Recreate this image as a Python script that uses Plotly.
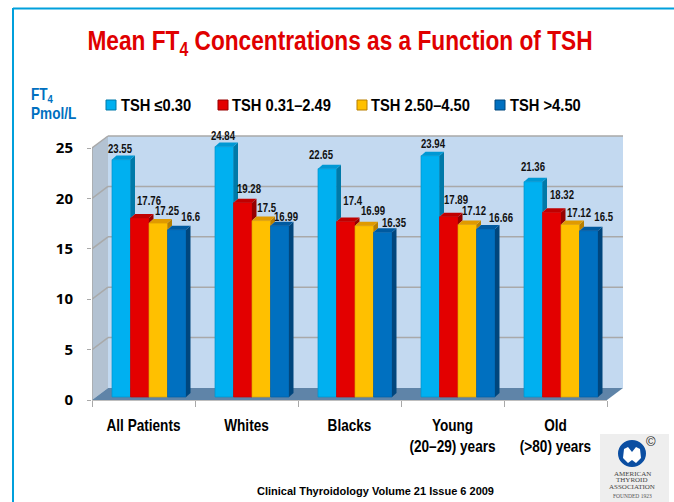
import plotly.graph_objects as go

categories = ["All Patients", "Whites", "Blacks", "Young<br>(20–29) years", "Old<br>(&gt;80) years"]
series_names = ["TSH ≤0.30", "TSH 0.31–2.49", "TSH 2.50–4.50", "TSH &gt;4.50"]
tsh_low = [23.55, 24.84, 22.65, 23.94, 21.36]
tsh_normal = [17.76, 19.28, 17.4, 17.89, 18.32]
tsh_high_normal = [17.25, 17.5, 16.99, 17.12, 17.12]
tsh_high = [16.6, 16.99, 16.35, 16.66, 16.5]
y_ticks = [0, 5, 10, 15, 20, 25]

series = [tsh_low, tsh_normal, tsh_high_normal, tsh_high]
front = ["#00b0f0", "#e30000", "#ffc000", "#0070c0"]
side = ["#0079a8", "#960000", "#b87f00", "#00467d"]
cap = ["#0098d4", "#c00000", "#e09a00", "#005aa0"]
edge = ["#0094cc", "#c80000", "#e0a000", "#005fa8"]

# label nudges relative to the top-centre of each bar, px (series x group)
label_dx = [[-1, -1, -6, 3, 0], [9, 6, 7, 7, 10], [9, 6, 9, 7, 9], [14, 6, 11, 15, 15]]
label_dy = [[10.6, 10.6, 14, 12, 15], [17, 14, 21, 17, 17], [12, 13, 15, 13, 11], [13, 9, 9, 11, 14]]

W, H = 674, 502
L, R, T, B = 92, 630, 130, 400      # plot box, px
GROUP_PX = 103.0
UNIT_PX = 10.08

def X(px):
    return (px - L) / GROUP_PX - 0.5
def Y(py):
    return (B - py) / UNIT_PX
def PX(px):
    return (px - L) / (R - L)
def PY(py):
    return (B - py) / (B - T)

wall_dx = 16 / GROUP_PX
wall_dy = 12 / UNIT_PX
bar_w = 18.5 / GROUP_PX
bar_start = 20 / GROUP_PX - 0.5
bar_base = 3 / UNIT_PX
bar_dx = 4.5 / GROUP_PX
bar_dy = 4 / UNIT_PX

fig = go.Figure()
shapes = []
annotations = []

def poly(pts, color, ref="x", line=None):
    path = "M" + "L".join(f"{a},{b}" for a, b in pts) + "Z"
    shapes.append(dict(type="path", path=path, xref="x" if ref == "x" else "paper",
                       yref="y" if ref == "x" else "paper", fillcolor=color,
                       line=dict(width=0) if line is None else line, layer="below"))

def seg(x0, y0, x1, y1, color="#a9a9a9", width=1.5, ref="x"):
    shapes.append(dict(type="line", x0=x0, y0=y0, x1=x1, y1=y1, xref="x" if ref == "x" else "paper",
                       yref="y" if ref == "x" else "paper", line=dict(color=color, width=width), layer="below"))

x_l, x_r = -0.5, 4.5
# back wall, left wall, floor
poly([(x_l + wall_dx, wall_dy), (x_r + wall_dx, wall_dy), (x_r + wall_dx, 25 + wall_dy), (x_l + wall_dx, 25 + wall_dy)], "#c3d9f0")
poly([(x_l, 0), (x_l + wall_dx, wall_dy), (x_l + wall_dx, 25 + wall_dy), (x_l, 25)], "#b3c2d2")
poly([(x_l, 0), (x_r, 0), (x_r + wall_dx, wall_dy), (x_l + wall_dx, wall_dy)], "#5f84a8")
for v in y_ticks[1:]:
    seg(x_l + wall_dx, v + wall_dy, x_r + wall_dx, v + wall_dy)
    seg(x_l, v, x_l + wall_dx, v + wall_dy)
seg(x_l, 0, x_l, 25)
seg(PX(92), PY(400), PX(607), PY(400), ref="paper")

for k, vals in enumerate(series):
    fig.add_trace(go.Bar(x=list(range(5)), y=vals, base=bar_base, width=bar_w,
                         offset=bar_start + k * bar_w, name=series_names[k],
                         marker=dict(color=front[k], line=dict(color=edge[k], width=0.7)),
                         showlegend=False))

for k, vals in enumerate(series):
    side_x, side_y, cap_x, cap_y = [], [], [], []
    for g, v in enumerate(vals):
        x0 = g + bar_start + k * bar_w
        x1 = x0 + bar_w
        top = v + bar_base
        low = bar_base
        if k < 3:
            low = min(top, series[k + 1][g] + bar_base)
        side_x += [x1, x1 + bar_dx, x1 + bar_dx, x1, None]
        side_y += [top, top + bar_dy, low + bar_dy, low, None]
        cap_x += [x0, x1, x1 + bar_dx, x0 + bar_dx, None]
        cap_y += [top, top, top + bar_dy, top + bar_dy, None]
        annotations.append(dict(x=x0 + bar_w / 2, y=top, xref="x", yref="y", text=str(v), showarrow=False,
                                xanchor="center", yanchor="middle", xshift=label_dx[k][g], yshift=label_dy[k][g],
                                font=dict(family="Liberation Sans", size=12, color="#111111", weight=700)))
    for xs, ys, c in ((side_x, side_y, side[k]), (cap_x, cap_y, cap[k])):
        fig.add_trace(go.Scatter(x=xs, y=ys, mode="none", fill="toself", fillcolor=c,
                                 showlegend=False, hoverinfo="skip"))

# legend
swatch_x = [106, 218, 357, 495]
text_x = [119, 230, 369, 508]
for k, name in enumerate(series_names):
    x0 = swatch_x[k]
    shapes.append(dict(type="rect", xref="paper", yref="paper", x0=PX(x0), x1=PX(x0 + 10), y0=PY(110), y1=PY(100),
                       fillcolor=front[k], line=dict(color=side[k], width=1)))
    annotations.append(dict(x=PX(text_x[k]), y=PY(105), xref="paper", yref="paper", text=name, showarrow=False,
                            xanchor="left", yanchor="middle",
                            font=dict(family="Liberation Sans", size=16, color="black", weight=700)))

def text(px, py, s, size, color="black", weight=700, family="Liberation Sans", anchor="center"):
    annotations.append(dict(x=PX(px), y=PY(py), xref="paper", yref="paper", text=s, showarrow=False,
                            xanchor=anchor, yanchor="middle",
                            font=dict(family=family, size=size, color=color, weight=weight)))

text(29, 95, "FT<sub>4</sub>", 16, "#0070c0", anchor="left")
text(29, 114, "Pmol/L", 16, "#0070c0", anchor="left")
text(375, 491, "Clinical Thyroidology Volume 21 Issue 6 2009", 11)

# slide border
seg(PX(13), PY(8.5), PX(674), PY(8.5), "#00a0dc", 2, "paper")
seg(PX(13), PY(8), PX(13), PY(502), "#00a0dc", 2, "paper")

# association logo
shapes.append(dict(type="rect", xref="paper", yref="paper", x0=PX(600), x1=PX(669), y0=PY(502), y1=PY(434),
                   fillcolor="#eeeeee", line=dict(width=0)))
shapes.append(dict(type="circle", xref="paper", yref="paper", x0=PX(618), x1=PX(646), y0=PY(467), y1=PY(440),
                   fillcolor="#0b4ea2", line=dict(width=0)))
logo = [(624, 449), (628, 447), (632, 452), (636, 447), (640, 449), (641, 458), (636, 463), (632, 460), (628, 463), (623, 458)]
shapes.append(dict(type="path", xref="paper", yref="paper",
                   path="M" + "L".join(f"{PX(a)},{PY(b)}" for a, b in logo) + "Z",
                   fillcolor="white", line=dict(width=0)))
seg(PX(605), PY(470), PX(660), PY(470), "#b5b5b5", 1, "paper")
seg(PX(605), PY(492), PX(660), PY(492), "#b5b5b5", 1, "paper")
text(651, 441, "©", 13, "#222222", 400)
serif = "Liberation Serif"
text(632, 473.5, "AMERICAN", 7, "#444444", 400, serif)
text(632, 480, "THYROID", 7, "#444444", 400, serif)
text(632, 487, "ASSOCIATION", 7, "#444444", 400, serif)
text(632, 496, "FOUNDED 1923", 5.5, "#555555", 400, serif)

fig.update_layout(
    width=W, height=H, autosize=False, paper_bgcolor="white", plot_bgcolor="rgba(0,0,0,0)",
    margin=dict(l=L, r=W - R, t=T, b=H - B, pad=0),
    barmode="overlay", shapes=shapes, annotations=annotations, showlegend=False,
    title=dict(text="Mean FT<sub>4</sub> Concentrations as a Function of TSH", x=340 / W, y=1 - 40 / H,
               xanchor="center", yanchor="middle",
               font=dict(family="Liberation Sans", size=28, color="#e00000", weight=700)),
    xaxis=dict(range=[X(L), X(R)], tickmode="array", tickvals=list(range(5)), ticktext=categories,
               showgrid=False, zeroline=False, showline=False, ticks="",
               tickfont=dict(family="Liberation Sans", size=16, color="black", weight=700),
               ticklabelstandoff=14,
               minor=dict(tickmode="array", tickvals=[-0.5, 0.5, 1.5, 2.5, 3.5, 4.5], ticks="outside",
                          ticklen=6, tickcolor="#a9a9a9", tickwidth=1, showgrid=False)),
    yaxis=dict(range=[Y(B), Y(T)], tickmode="array", tickvals=y_ticks, showgrid=False, zeroline=False,
               showline=False, ticks="outside", ticklen=4, tickcolor="#a9a9a9",
               tickfont=dict(family="Noto Sans", size=15, color="black", weight=700),
               ticklabelstandoff=11),
)

# The reference type is a condensed face; squeeze the text horizontally to match it.
post = """
document.body.style.margin='0';document.body.style.overflow='hidden';
function squeeze(el, s, origin){
  el.style.transformBox='fill-box';
  el.style.transformOrigin=origin||'center';
  el.style.transform='scaleX('+s+')';
}
document.querySelectorAll('.gtitle').forEach(function(e){squeeze(e,0.81);});
document.querySelectorAll('.xtick text').forEach(function(e){
  var cx=parseFloat(e.getAttribute('x'))||0;
  var old=e.getAttribute('transform')||'';
  e.setAttribute('transform',old+' translate('+cx+',0) scale(0.85,1) translate('+(-cx)+',0)');
});
document.querySelectorAll('.annotation-text').forEach(function(e){
  var t=e.textContent;
  if(/^TSH/.test(t)){squeeze(e,0.92,'left center');}
  else if(/^(FT|Pmol)/.test(t)){squeeze(e,0.85,'left center');}
  else if(/^[0-9.]+$/.test(t)){squeeze(e,0.8);}
});
"""
fig.write_html("out.html", post_script=post, config={"displayModeBar": False})
